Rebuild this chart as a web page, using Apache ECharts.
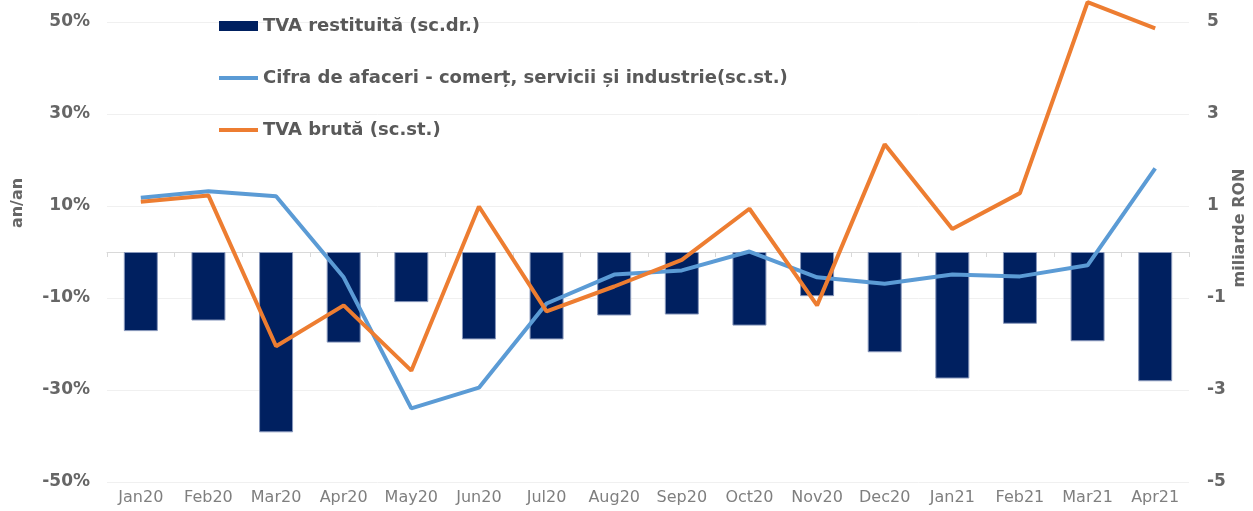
<!DOCTYPE html>
<html><head><meta charset="utf-8">
<script src="https://cdn.jsdelivr.net/npm/echarts@6/dist/echarts.min.js"></script>
<style>html,body{margin:0;padding:0;background:#fff}#c{width:1253px;height:511px}</style>
</head><body><div id="c"></div>
<script>
const categories = ['Jan20','Feb20','Mar20','Apr20','May20','Jun20','Jul20','Aug20','Sep20','Oct20','Nov20','Dec20','Jan21','Feb21','Mar21','Apr21'];
// miliarde RON (right axis)
const tvaRestituita = [-1.72,-1.49,-3.92,-1.97,-1.09,-1.90,-1.90,-1.38,-1.36,-1.60,-0.96,-2.18,-2.75,-1.56,-1.94,-2.81];
// % an/an (left axis)
const cifraAfaceri = [11.8,13.2,12.1,-5.5,-34.0,-29.5,-11.2,-4.9,-4.0,0.1,-5.5,-6.9,-4.9,-5.3,-2.9,18.2];
const tvaBruta = [10.9,12.3,-20.5,-11.6,-25.8,9.9,-12.9,-7.5,-1.7,9.4,-11.6,23.4,5.0,12.8,54.3,48.6];
const seriesNames = ['TVA restituită (sc.dr.)','Cifra de afaceri - comerț, servicii și industrie(sc.st.)','TVA brută (sc.st.)'];
const leftAxisName = 'an/an';
const rightAxisName = 'miliarde RON';

const FONT = 'DejaVu Sans';
const chart = echarts.init(document.getElementById('c'));
const legendBase = {
  orient: 'vertical', left: 219, padding: 0, itemWidth: 39, icon: 'rect',
  selectedMode: false, itemGap: 5,
  textStyle: {fontFamily: FONT, fontWeight: 'bold', fontSize: 18, color: '#595959'}
};
chart.setOption({
  animation: false,
  backgroundColor: '#fff',
  grid: {left: 107, right: 64, top: 22, bottom: 29, containLabel: false},
  legend: [
    Object.assign({}, legendBase, {top: 17, itemHeight: 10, itemStyle: {borderWidth: 0}, data: [seriesNames[0]]}),
    Object.assign({}, legendBase, {top: 69, itemHeight: 4, data: [seriesNames[1]]}),
    Object.assign({}, legendBase, {top: 121, itemHeight: 4, data: [seriesNames[2]]})
  ],
  xAxis: [
    {type: 'category', data: categories, position: 'bottom',
     axisLine: {show: false, onZero: false}, axisTick: {show: false},
     axisLabel: {interval: 0, fontFamily: FONT, fontSize: 16, color: '#7f7f7f', margin: 8}},
    {type: 'category', data: categories, position: 'bottom',
     axisLine: {show: true, onZero: true, onZeroAxisIndex: 0, lineStyle: {color: '#d9d9d9', width: 1}},
     axisTick: {show: true, interval: 0, length: 5, lineStyle: {color: '#d9d9d9'}},
     axisLabel: {show: false}, splitLine: {show: false}}
  ],
  yAxis: [
    {type: 'value', min: -50, max: 50, interval: 20, position: 'left',
     axisLine: {show: false}, axisTick: {show: false},
     splitLine: {lineStyle: {color: '#f0f0f0', width: 1}},
     axisLabel: {formatter: v => v + '%', fontFamily: FONT, fontWeight: 'bold', fontSize: 17, color: '#666', margin: 17}},
    {type: 'value', min: -5, max: 5, interval: 2, position: 'right',
     axisLine: {show: false}, axisTick: {show: false}, splitLine: {show: false},
     axisLabel: {fontFamily: FONT, fontWeight: 'bold', fontSize: 17, color: '#666', margin: 18}}
  ],
  graphic: [
    {type: 'text', x: 18, y: 203, rotation: Math.PI / 2,
     style: {text: leftAxisName, font: 'bold 16px "DejaVu Sans"', fill: '#666', textAlign: 'center', textVerticalAlign: 'middle'}},
    {type: 'text', x: 1240, y: 228, rotation: Math.PI / 2,
     style: {text: rightAxisName, font: 'bold 16px "DejaVu Sans"', fill: '#666', textAlign: 'center', textVerticalAlign: 'middle'}}
  ],
  series: [
    {name: seriesNames[0], type: 'bar', xAxisIndex: 0, yAxisIndex: 1, data: tvaRestituita,
     barWidth: 34, itemStyle: {color: '#002060', borderColor: '#8797bb', borderWidth: 1}, z: 2},
    {name: seriesNames[1], type: 'line', xAxisIndex: 0, yAxisIndex: 0, data: cifraAfaceri,
     showSymbol: false, symbol: 'none', clip: false, color: '#5B9BD5',
     lineStyle: {color: '#5B9BD5', width: 4}, z: 3},
    {name: seriesNames[2], type: 'line', xAxisIndex: 0, yAxisIndex: 0, data: tvaBruta,
     showSymbol: false, symbol: 'none', clip: false, color: '#ED7D31',
     lineStyle: {color: '#ED7D31', width: 4}, z: 4}
  ]
});
</script>
</body></html>
